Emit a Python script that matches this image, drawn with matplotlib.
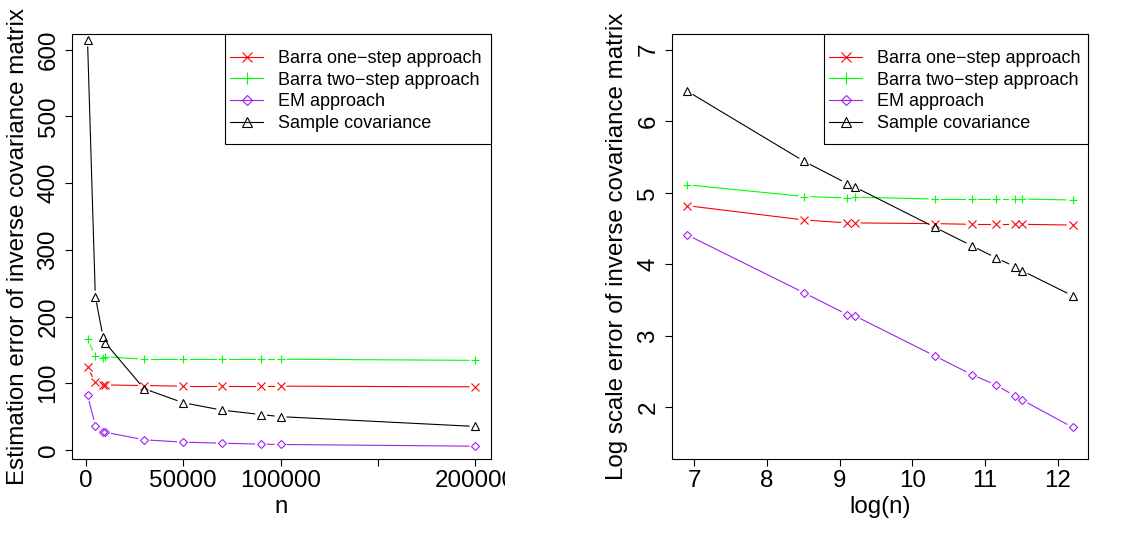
import numpy as np
import matplotlib
matplotlib.use('Agg')
import matplotlib.pyplot as plt
from matplotlib.lines import Line2D
from matplotlib.patches import Rectangle
from matplotlib.transforms import Bbox, TransformedBbox

plt.rcParams['font.family'] = ['Liberation Sans', 'DejaVu Sans']

# sample sizes and estimation errors of the inverse covariance matrix
n = [1000, 5000, 9000, 10000, 30000, 50000, 70000, 90000, 100000, 200000]
err_one_step = [124, 101.5, 97.5, 97.5, 96.5, 95.6, 95.6, 95.6, 95.6, 94.6]
err_two_step = [166, 141, 138.4, 139.8, 136, 136, 136, 136, 136, 134.3]
err_em = [82.3, 36.6, 27.1, 26.6, 15.2, 11.7, 10.1, 8.7, 8.2, 5.6]
err_sample = [614, 230, 169, 161, 91.8, 70.8, 59.7, 53, 49.9, 35.2]

labels = ['Barra one\u2212step approach', 'Barra two\u2212step approach',
          'EM approach', 'Sample covariance']
colors = ['#FF0000', '#00FF00', '#A020F0', '#000000']
markers = ['x', '+', 'D', '^']
msizes = [5.5, 6.3, 4.2, 5.5]

left_xticks = [0, 50000, 100000, 150000, 200000]
left_xticklabels = ['0', '50000', '100000', '', '200000']
left_yticks = [0, 100, 200, 300, 400, 500, 600]
right_xticks = [7, 8, 9, 10, 11, 12]
right_yticks = [2, 3, 4, 5, 6, 7]

FS = 17.4
W, H = 1133, 552


def draw_type_b(ax, x, y, color, marker, ms, gap=6.5):
    # R-style type="b": segments stop short of each point
    pts = ax.transData.transform(np.column_stack([x, y]))
    inv = ax.transData.inverted()
    for p, q in zip(pts[:-1], pts[1:]):
        d = q - p
        dist = np.hypot(*d)
        if dist <= 2 * gap:
            continue
        u = d / dist
        seg = inv.transform(np.array([p + u * gap, q - u * gap]))
        ax.plot(seg[:, 0], seg[:, 1], color=color, lw=0.8)
    ax.plot(x, y, ls='none', marker=marker, ms=ms, mfc='none', mec=color, mew=0.8)


def style_axes(ax):
    for s in ax.spines.values():
        s.set_linewidth(0.8)
        s.set_color('black')
    ax.tick_params(direction='out', length=5, width=0.8, labelsize=FS, pad=3)
    ax.tick_params(axis='y', pad=4)


def add_legend(ax, box_left, box_bottom):
    handles = [Line2D([], [], color=c, marker=m, ms=s * 1.3, mfc='none', mec=c, mew=0.8, lw=0.8)
               for c, m, s in zip(colors, markers, msizes)]
    # entries without frame, box drawn separately (R-style wide vertical padding)
    ax.legend(handles, labels, loc='upper left', bbox_to_anchor=(box_left + 0.012, 1 - 16 / 425),
              borderaxespad=0, borderpad=0, frameon=False, fontsize=13,
              handlelength=1.85, handletextpad=0.8, labelspacing=0.26)
    ax.add_patch(Rectangle((box_left, box_bottom), 1 - box_left, 1 - box_bottom,
                           transform=ax.transAxes, facecolor='white', edgecolor='black',
                           lw=0.8, zorder=4, clip_on=False))


fig = plt.figure(figsize=(W / 100, H / 100), dpi=100)

ax1 = fig.add_axes([72 / W, 1 - 459 / H, 419 / W, 425 / H])
ax2 = fig.add_axes([672 / W, 1 - 459 / H, 416 / W, 425 / H])

ax1.set_xlim(-6960, 207960)
ax1.set_ylim(-13.6, 623.6)
ax2.set_xlim(6.696, 12.418)
ax2.set_ylim(1.28, 7.22)

series = [err_one_step, err_two_step, err_em, err_sample]
log_n = np.log(n)
for vals, c, m, s in zip(series, colors, markers, msizes):
    draw_type_b(ax1, n, vals, c, m, s)
    draw_type_b(ax2, log_n, np.log(vals), c, m, s)

for ax in (ax1, ax2):
    style_axes(ax)
    add_legend(ax, 0.365, 1 - 110 / 425)

ax1.set_xticks(left_xticks)
ax1.set_xticklabels(left_xticklabels)
ax1.set_yticks(left_yticks)
ax1.set_yticklabels([str(v) for v in left_yticks], rotation=90, va='center')
ax2.set_xticks(right_xticks)
ax2.set_xticklabels([str(v) for v in right_xticks])
ax2.set_yticks(right_yticks)
ax2.set_yticklabels([str(v) for v in right_yticks], rotation=90, va='center')

ax1.set_xlabel('n', fontsize=FS, labelpad=3)
ax1.set_ylabel('Estimation error of inverse covariance matrix', fontsize=FS)
ax1.yaxis.set_label_coords(-0.103, 0.5)
ax2.set_xlabel('log(n)', fontsize=FS, labelpad=3)
ax2.set_ylabel('Log scale error of inverse covariance matrix', fontsize=FS)
ax2.yaxis.set_label_coords(-0.105, 0.5)

# left panel is cut off on its right side
clip = TransformedBbox(Bbox([[0, 0], [505 / W, 1]]), fig.transFigure)
for lbl in ax1.get_xticklabels():
    lbl.set_clip_on(True)
    lbl.set_clip_box(clip)

fig.savefig('out.png', dpi=100)
